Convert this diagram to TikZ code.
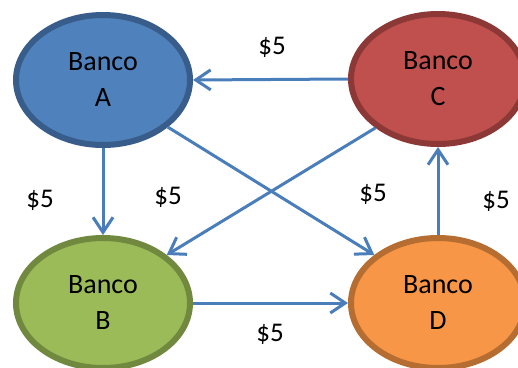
\documentclass[tikz,border=0pt]{standalone}
\usepackage{fontspec}
\setmainfont{Carlito}
\usetikzlibrary{shapes.geometric,arrows.meta}
\definecolor{fillA}{HTML}{4F81BD}
\definecolor{lineA}{HTML}{385D8A}
\definecolor{fillB}{HTML}{9BBB59}
\definecolor{lineB}{HTML}{71893F}
\definecolor{fillC}{HTML}{C0504D}
\definecolor{lineC}{HTML}{8C3836}
\definecolor{fillD}{HTML}{F79646}
\definecolor{lineD}{HTML}{B66D31}
\definecolor{flowblue}{HTML}{4A7EBB}
\begin{document}
\begin{tikzpicture}[x=1pt,y=-1pt,
    banco/.style={ellipse,line width=6pt,minimum width=174pt,minimum height=130pt,inner sep=0pt,align=center,font=\fontsize{28}{36}\selectfont},
    flow/.style={line width=3pt,draw=flowblue,-{Straight Barb[length=15pt,width=20pt]}},
    amount/.style={font=\fontsize{27}{30}\selectfont}]
    \useasboundingbox (0,0) rectangle (518,367);
    \clip (0,0) rectangle (518,367);
    % the four banks
    \node[banco,fill=fillA,draw=lineA] (A) at (103,80) {Banco\\A};
    \node[banco,fill=fillC,draw=lineC] (C) at (438,79) {Banco\\C};
    \node[banco,fill=fillB,draw=lineB] (B) at (103,303) {Banco\\B};
    \node[banco,fill=fillD,draw=lineD] (D) at (438,303) {Banco\\D};
    % payments
    \draw[flow] (C.west) -- (A.east);
    \draw[flow] (A.south) -- (B.north);
    \draw[flow] (A.-36) -- (D.143);
    \draw[flow] (C.218) -- (B.37);
    \draw[flow] (B.east) -- (D.west);
    \draw[flow] (D.north) -- (C.south);
    % amounts
    \node[amount] (ca) at (272,47) {\$5};
    \node[amount] (ab) at (40,200) {\$5};
    \node[amount] (cb) at (168,197) {\$5};
    \node[amount] (ad) at (373,194) {\$5};
    \node[amount] (dc) at (496,201) {\$5};
    \node[amount] (bd) at (270,334) {\$5};
\end{tikzpicture}
\end{document}
